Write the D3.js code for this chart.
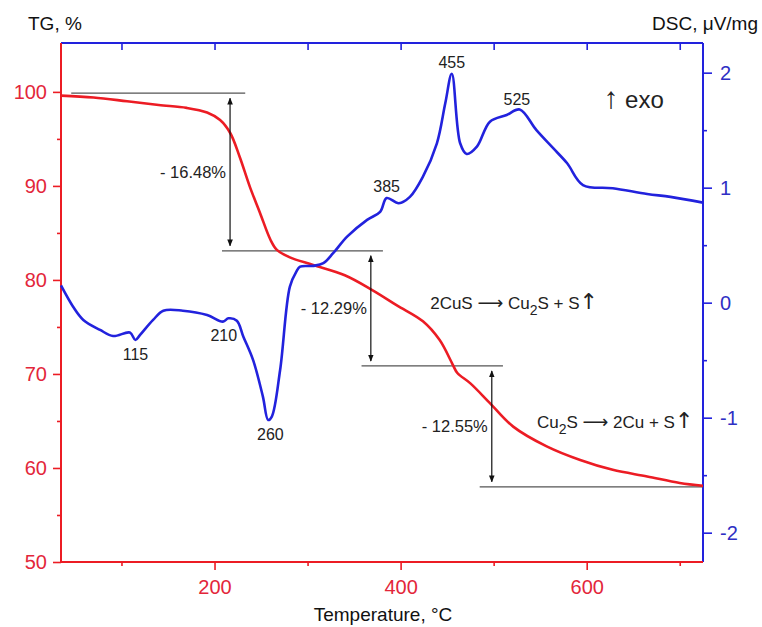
<!DOCTYPE html>
<html>
<head>
<meta charset="utf-8">
<script src="https://cdn.jsdelivr.net/npm/d3@7/dist/d3.min.js"></script>
<style>
  body { margin: 0; background: #fff; }
  svg { font-family: "Liberation Sans", Arial, sans-serif; }
</style>
</head>
<body>
<svg id="chart" width="762" height="627"></svg>
<script>
// TG curve (temperature, mass %)
var tgTemp = [35, 70, 106, 140, 170, 192, 206, 217, 227, 238, 249, 260, 267, 281, 306, 340, 370, 396, 424, 442, 456, 461, 475, 496, 521, 557, 593, 628, 665, 700, 725];
var tgMass = [99.6, 99.4, 99.0, 98.6, 98.3, 97.8, 97.0, 95.6, 93.1, 89.9, 87.1, 84.3, 83.2, 82.4, 81.6, 80.5, 78.9, 77.3, 75.6, 73.6, 71.0, 70.1, 69.0, 66.9, 64.4, 62.3, 60.85, 59.8, 59.1, 58.4, 58.1];

// DSC curve (temperature, uV/mg)
var dscTemp = [35, 48, 59, 77, 91, 109, 115, 120, 134, 145, 166, 192, 209, 215, 224, 231, 241.5, 252, 257.6, 261.6, 270.5, 281, 288, 292, 306, 317, 327.5, 342.5, 364, 378, 385, 398, 410, 424, 439, 448, 455, 464, 471, 482, 496, 514, 528, 546, 564, 579, 596, 628, 665, 690, 725];
var dscVal = [0.15, -0.035, -0.15, -0.237, -0.29, -0.26, -0.324, -0.28, -0.15, -0.07, -0.07, -0.107, -0.165, -0.136, -0.157, -0.296, -0.5, -0.817, -1.02, -0.99, -0.585, 0.139, 0.27, 0.313, 0.32, 0.343, 0.43, 0.574, 0.72, 0.79, 0.91, 0.865, 0.92, 1.096, 1.386, 1.734, 1.99, 1.386, 1.293, 1.357, 1.574, 1.632, 1.68, 1.50, 1.343, 1.212, 1.023, 0.995, 0.945, 0.92, 0.87];

// peak labels on the DSC curve
var peakTemps = [115, 210, 260, 385, 455, 525];
var peakBelow = [true, true, true, false, false, false];

// mass loss steps: level lines, their spans, arrows and labels
var stepLevels = [99.86, 83.1, 70.85, 58.0];
var stepLineFrom = [46, 208, 358, 485];
var stepLineTo = [233, 381, 510, 725];
var stepArrowTemp = [216.7, 368, 498];
var stepLabels = ["- 16.48%", "- 12.29%", "- 12.55%"];

// axis ticks
var tempMajor = [200, 400, 600];
var tempMinor = [100, 300, 500, 700];
var tempTop = [100, 200, 300, 400, 500, 600, 700];
var tgMajor = [50, 60, 70, 80, 90, 100];
var tgMinor = [55, 65, 75, 85, 95];
var dscMajor = [-2, -1, 0, 1, 2];
var dscMinor = [-1.5, -0.5, 0.5, 1.5];

var RED = "#ec1c24", BLUE = "#2222dd";
var RED_TXT = "#e3263a", BLUE_TXT = "#2f2fc4";

var svg = d3.select("#chart");
var L = 61, R = 703, T = 43, B = 562;

var x = d3.scaleLinear().domain([35, 725]).range([L, R]);
var yTG = d3.scaleLinear().domain([50, 105.2]).range([B, T]);
var yDSC = d3.scaleLinear().domain([-2.255, 2.258]).range([B, T]);

function styleTicks(g, color, size) {
  g.select(".domain").remove();
  g.selectAll(".tick line").attr("stroke", color).attr("stroke-width", 1.6);
  g.selectAll(".tick text").attr("fill", color).attr("font-size", size);
}
var plain = function(d) { return String(d); };

// bottom axis
svg.append("g").attr("transform", "translate(0," + B + ")")
  .call(d3.axisBottom(x).tickValues(tempMajor).tickSize(8).tickPadding(10).tickFormat(plain))
  .call(function(g) { styleTicks(g, RED, 20); g.selectAll(".tick text").attr("fill", RED_TXT); });
svg.append("g").attr("transform", "translate(0," + B + ")")
  .call(d3.axisBottom(x).tickValues(tempMinor).tickSize(4).tickFormat(""))
  .call(function(g) { styleTicks(g, RED, 20); });
// top axis, ticks inward
svg.append("g").attr("transform", "translate(0," + T + ")")
  .call(d3.axisBottom(x).tickValues(tempTop).tickSize(7).tickFormat(""))
  .call(function(g) { styleTicks(g, BLUE, 20); });

// left axis
svg.append("g").attr("transform", "translate(" + L + ",0)")
  .call(d3.axisLeft(yTG).tickValues(tgMajor).tickSize(8).tickPadding(6).tickFormat(plain))
  .call(function(g) { styleTicks(g, RED, 20); g.selectAll(".tick text").attr("fill", RED_TXT); });
svg.append("g").attr("transform", "translate(" + L + ",0)")
  .call(d3.axisLeft(yTG).tickValues(tgMinor).tickSize(4).tickFormat(""))
  .call(function(g) { styleTicks(g, RED, 20); });

// right axis
svg.append("g").attr("transform", "translate(" + R + ",0)")
  .call(d3.axisRight(yDSC).tickValues(dscMajor).tickSize(9).tickPadding(8).tickFormat(plain))
  .call(function(g) { styleTicks(g, BLUE, 20); g.selectAll(".tick text").attr("fill", BLUE_TXT); });
svg.append("g").attr("transform", "translate(" + R + ",0)")
  .call(d3.axisRight(yDSC).tickValues(dscMinor).tickSize(4).tickFormat(""))
  .call(function(g) { styleTicks(g, BLUE, 20); });

// frame lines
svg.append("line").attr("x1", L).attr("x2", R).attr("y1", T).attr("y2", T).attr("stroke", BLUE).attr("stroke-width", 2);
svg.append("line").attr("x1", R).attr("x2", R).attr("y1", T).attr("y2", B).attr("stroke", BLUE).attr("stroke-width", 2);
svg.append("line").attr("x1", L).attr("x2", R).attr("y1", B).attr("y2", B).attr("stroke", RED).attr("stroke-width", 2);
svg.append("line").attr("x1", L).attr("x2", L).attr("y1", T).attr("y2", B).attr("stroke", RED).attr("stroke-width", 2);

// curves
var tgLine = d3.line().curve(d3.curveCatmullRom.alpha(0.5))
  .x(function(d, i) { return x(tgTemp[i]); }).y(function(d) { return yTG(d); });
var dscLine = d3.line().curve(d3.curveCatmullRom.alpha(0.5))
  .x(function(d, i) { return x(dscTemp[i]); }).y(function(d) { return yDSC(d); });

// step level lines
svg.selectAll(".lvl").data(stepLevels).enter().append("line")
  .attr("x1", function(d, i) { return x(stepLineFrom[i]); })
  .attr("x2", function(d, i) { return x(stepLineTo[i]); })
  .attr("y1", function(d) { return yTG(d); })
  .attr("y2", function(d) { return yTG(d); })
  .attr("stroke", "#555").attr("stroke-width", 1.2);

svg.append("path").datum(tgMass).attr("d", tgLine)
  .attr("fill", "none").attr("stroke", RED).attr("stroke-width", 2.6);
svg.append("path").datum(dscVal).attr("d", dscLine)
  .attr("fill", "none").attr("stroke", BLUE).attr("stroke-width", 2.6);

// double arrows
var defs = svg.append("defs");
defs.append("marker").attr("id", "ah").attr("viewBox", "0 0 10 10")
  .attr("refX", 9).attr("refY", 5).attr("markerWidth", 7).attr("markerHeight", 9)
  .attr("markerUnits", "userSpaceOnUse").attr("orient", "auto-start-reverse")
  .append("path").attr("d", "M0,1 L10,5 L0,9 z").attr("fill", "#111");

stepArrowTemp.forEach(function(t, i) {
  var y1 = yTG(stepLevels[i]) + 5, y2 = yTG(stepLevels[i + 1]) - 5;
  svg.append("line").attr("x1", x(t)).attr("x2", x(t)).attr("y1", y1).attr("y2", y2)
    .attr("stroke", "#111").attr("stroke-width", 1.2)
    .attr("marker-start", "url(#ah)").attr("marker-end", "url(#ah)");
  svg.append("text").attr("x", x(t) - 4).attr("y", (y1 + y2) / 2 + 6)
    .attr("text-anchor", "end").attr("font-size", 16.5).attr("fill", "#222")
    .text(stepLabels[i]);
});

// peak labels
function dscAt(t) {
  var i = d3.bisectLeft(dscTemp, t);
  if (i <= 0) return dscVal[0];
  if (i >= dscTemp.length) return dscVal[dscVal.length - 1];
  var f = (t - dscTemp[i - 1]) / (dscTemp[i] - dscTemp[i - 1]);
  return dscVal[i - 1] + f * (dscVal[i] - dscVal[i - 1]);
}
var peakMin = { 260: -1.02, 455: 1.99 };
peakTemps.forEach(function(t, i) {
  var v = peakMin[t] !== undefined ? peakMin[t] : dscAt(t);
  var yy = yDSC(v) + (peakBelow[i] ? 20 : -6);
  svg.append("text").attr("x", x(t)).attr("y", yy)
    .attr("text-anchor", "middle").attr("font-size", 16).attr("fill", "#222")
    .text(t);
});

// reaction notes
function reaction(tx, ty, parts) {
  var txt = svg.append("text").attr("x", x(tx)).attr("y", yTG(ty))
    .attr("font-size", 17).attr("fill", "#222");
  parts.forEach(function(p) {
    var s = txt.append("tspan").text(p[0]);
    if (p[1] === "sub") { s.attr("dy", 6).attr("font-size", 14); }
    if (p[1] === "up") { s.attr("dy", -6); }
    if (p[1] === "arrow") { s.attr("font-family", "DejaVu Sans").attr("font-size", 18); }
    if (p[1] === "big") { s.attr("font-family", "DejaVu Sans").attr("font-size", 22).attr("dy", 0); }
  });
}
reaction(431.8, 76.9, [["2CuS "], ["\u27F6", "arrow"], [" Cu"], ["2", "sub"], ["S + S", "up"], ["\u2191", "big"]]);
reaction(546.5, 64.26, [["Cu"], ["2", "sub"], ["S ", "up"], ["\u27F6", "arrow"], [" 2Cu + S"], ["\u2191", "big"]]);

// exo marker
var exo = svg.append("text").attr("x", x(618)).attr("y", yDSC(1.69))
  .attr("font-size", 24).attr("fill", "#222");
exo.append("tspan").attr("font-size", 30).text("\u2191");
exo.append("tspan").text(" exo");

// axis titles
svg.append("text").attr("x", 28).attr("y", 30).attr("font-size", 19).attr("fill", "#111").text("TG, %");
svg.append("text").attr("x", 758).attr("y", 30).attr("text-anchor", "end")
  .attr("font-size", 19).attr("fill", "#111").text("DSC, \u03BCV/mg");
svg.append("text").attr("x", 383).attr("y", 621).attr("text-anchor", "middle")
  .attr("font-size", 19).attr("fill", "#111").text("Temperature, \u00B0C");
</script>
</body>
</html>
